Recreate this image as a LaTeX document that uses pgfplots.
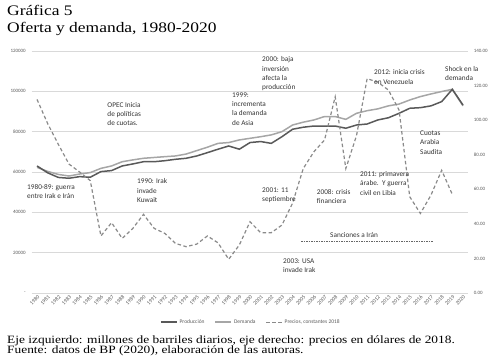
\documentclass[border=0pt]{standalone}
\usepackage{fontspec}
\setmainfont{Carlito}
\newfontfamily\titlef[FakeStretch=1.2]{Liberation Serif}
\usepackage{pgfplots}
\usepackage{pgfplotstable}
\pgfplotsset{compat=1.18}
\definecolor{prodc}{HTML}{595959}
\definecolor{demc}{HTML}{A6A6A6}
\definecolor{pricec}{HTML}{8A8A8A}
\definecolor{gridc}{HTML}{D9D9D9}
\definecolor{tickc}{HTML}{595959}
\definecolor{annc}{HTML}{333333}

\pgfplotstableread{
k prod dem price
0 63000 62300 112
1 59600 60300 98
2 57300 58800 86
3 56900 58000 74.6
4 57700 59000 70
5 57400 59700 65
6 60200 61800 33
7 60700 63000 40.7
8 63000 65100 31.6
9 64000 66000 37.4
10 65100 66800 45.5
11 65100 67200 37.4
12 65600 67600 34.5
13 66300 67950 28.7
14 66800 68900 26.8
15 67950 70600 28.3
16 69600 72300 33
17 71300 74200 29
18 72900 74600 19.5
19 71300 75900 27.8
20 74600 76700 41.2
21 75100 77500 34.9
22 74200 78400 34.9
23 77500 80000 39.3
24 81200 83300 52
25 82200 84700 72
26 82800 85800 81.7
27 82800 87500 88.5
28 82800 87500 113.5
29 81700 86100 72
30 83300 89100 91
31 83800 90400 124
32 85800 91300 122
33 86900 92800 117.4
34 89100 93700 105.8
35 91600 95700 55.7
36 91900 97400 46
37 92800 98700 56.7
38 94900 99900 71
39 101000 101000 57
40 93200 92800 nan
}\data

\begin{document}
\begin{tikzpicture}
\path[use as bounding box] (0,0) rectangle (503bp,358bp);
\begin{axis}[
  at={(31.7bp,65bp)}, anchor=south west,
  scale only axis, width=436.6bp, height=242bp,
  xmin=-0.5, xmax=40.5, ymin=0, ymax=120000,
  axis y line*=left, axis x line*=bottom,
  axis line style={draw=none},
  major tick style={draw=none},
  xtick={0,...,40},
  xticklabels={1980,1981,1982,1983,1984,1985,1986,1987,1988,1989,1990,1991,1992,1993,1994,1995,1996,1997,1998,1999,2000,2001,2002,2003,2004,2005,2006,2007,2008,2009,2010,2011,2012,2013,2014,2015,2016,2017,2018,2019,2020},
  xticklabel style={rotate=45, anchor=east, font=\fontsize{5.5}{6}\selectfont, text=tickc, xshift=2bp, yshift=-3.5bp},
  ytick={0,20000,40000,60000,80000,100000,120000},
  yticklabels={-,20000,40000,60000,80000,100000,120000},
  yticklabel style={font=\fontsize{5}{6}\selectfont, text=tickc, xshift=-2.5bp},
  scaled y ticks=false,
  ymajorgrids, grid style={gridc, line width=0.6bp},
]
\addplot[demc, line width=1.5bp] table[x=k,y=dem]{\data};
\addplot[prodc, line width=1.5bp] table[x=k,y=prod]{\data};
\addplot[black!60, line width=0.45bp, dash pattern=on 1.5bp off 1bp] coordinates {(24.8,25500) (37.2,25500)};
\end{axis}
\begin{axis}[
  at={(31.7bp,65bp)}, anchor=south west,
  scale only axis, width=436.6bp, height=242bp,
  xmin=-0.5, xmax=40.5, ymin=0, ymax=140,
  axis y line*=right, axis x line=none,
  axis line style={draw=none},
  major tick style={draw=none},
  xtick=\empty,
  ytick={0,20,40,60,80,100,120,140},
  yticklabels={0.00,20.00,40.00,60.00,80.00,100.00,120.00,140.00},
  yticklabel style={font=\fontsize{5}{6}\selectfont, text=tickc, xshift=2bp},
  legend style={at={(0.502,-0.1206)}, anchor=center, draw=none, fill=none,
    font=\fontsize{5.5}{6}\selectfont, text=tickc, legend columns=3,
    /tikz/every even column/.append style={column sep=8bp}},
  legend image code/.code={\draw[#1] (0bp,0bp) -- (16bp,0bp);},
  unbounded coords=jump,
]
\addlegendimage{prodc, line width=1.5bp}
\addlegendentry{Producción}
\addlegendimage{demc, line width=1.5bp}
\addlegendentry{Demanda}
\addplot[pricec, line width=1.2bp, dash pattern=on 3.5bp off 2.5bp] table[x=k,y=price]{\data};
\addlegendentry{Precios, constantes 2018}
\end{axis}
\begin{scope}[x=1bp,y=-1bp,yshift=358bp]
\tikzset{annot/.style={anchor=north west, inner sep=0pt, align=left, font=\fontsize{7.3}{9.3}\selectfont, text=annc}}
\node[anchor=base west, inner sep=0pt, font=\titlef\fontsize{14.6}{16}\selectfont] at (7,16) {Gráfica 5};
\node[anchor=base west, inner sep=0pt, font=\titlef\fontsize{14.6}{16}\selectfont] at (7,33) {Oferta y demanda, 1980-2020};
\node[anchor=base west, inner sep=0pt, font=\titlef\fontsize{11.2}{12}\selectfont] at (7,344) {Eje izquierdo: millones de barriles diarios, eje derecho: precios en dólares de 2018.};
\node[anchor=base west, inner sep=0pt, font=\titlef\fontsize{11.2}{12}\selectfont] at (7,354) {Fuente: datos de BP (2020), elaboración de las autoras.};
\node[annot] at (107.3,102.2) {OPEC Inicia\\de políticas\\de cuotas.};
\node[annot] at (27,184.5) {1980-89: guerra\\entre Irak e Irán};
\node[annot] at (137,178.5) {1990: Irak\\invade\\Kuwait};
\node[annot] at (232,92.5) {1999:\\incrementa\\la demanda\\de Asia};
\node[annot] at (262,56.5) {2000: baja\\inversión\\afecta la\\producción};
\node[annot] at (262,187.5) {2001: 11\\septiembre};
\node[annot] at (283,258.5) {2003: USA\\invade Irak};
\node[annot] at (316.7,189.5) {2008: crisis\\financiera};
\node[annot] at (360,171.5) {2011: primavera\\árabe.\ \ Y guerra\\civil en Libia};
\node[annot] at (374,69.8) {2012: inicia crisis\\en Venezuela};
\node[annot] at (420,130.8) {Cuotas\\Arabia\\Saudita};
\node[annot] at (445,65.8) {Shock en la\\demanda};
\node[annot] at (330,232) {Sanciones a Irán};
\end{scope}
\end{tikzpicture}
\end{document}
